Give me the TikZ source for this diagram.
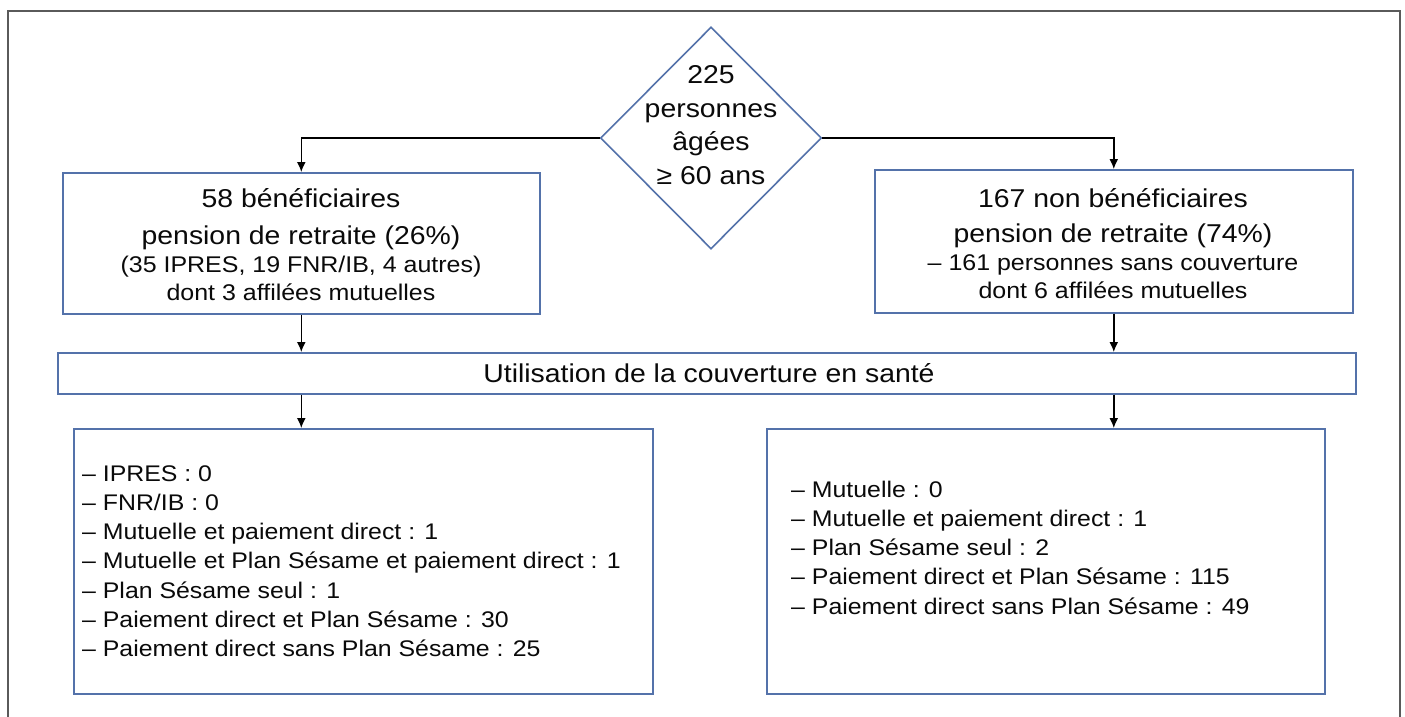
\documentclass[tikz,border=0pt]{standalone}
\usepackage{fontspec}
\setmainfont{Liberation Sans}[FakeStretch=1.1]
\usetikzlibrary{shapes.geometric,arrows.meta}
\definecolor{boxblue}{RGB}{84,114,170}
\definecolor{framegray}{RGB}{90,90,90}
\definecolor{txt}{RGB}{10,10,10}
\begin{document}
\begin{tikzpicture}[x=1pt,y=-1pt,
  box/.style={draw=boxblue,line width=1.6pt,inner sep=0pt,anchor=north west,rectangle},
  conn/.style={draw=black,line width=1.4pt,-{Latex[length=10pt,width=9pt]}},
  bigtxt/.style={font=\fontsize{25.8}{30}\selectfont,anchor=base,inner sep=0pt,text=txt},
  smalltxt/.style={font=\fontsize{22.7}{27}\selectfont,anchor=base,inner sep=0pt,text=txt},
  listtxt/.style={font=\fontsize{22.6}{27}\selectfont,anchor=base west,inner sep=0pt,text=txt}]
\useasboundingbox (0,0) rectangle (1405,717);
\fill[white] (0,0) rectangle (1405,717);
% outer frame
\draw[framegray,line width=1.6pt] (8,720) -- (8,11) -- (1400,11) -- (1400,720);

% boxes
\node[box,shape=diamond,anchor=center,minimum width=221pt,minimum height=222pt] (dia) at (711,138) {};
\node[box,minimum width=477pt,minimum height=141pt] (b1) at (62,172) {};
\node[box,minimum width=478pt,minimum height=143pt] (b2) at (874,169) {};
\node[box,minimum width=1298pt,minimum height=41pt] (bar) at (57,352) {};
\node[box,minimum width=579pt,minimum height=265pt] (l1) at (73,428) {};
\node[box,minimum width=558pt,minimum height=265pt] (l2) at (766,428) {};

% diamond text
\node[bigtxt] (d1) at (711,83) {225};
\node[bigtxt] (d2) at (711,117) {personnes};
\node[bigtxt] (d3) at (711,150) {âgées};
\node[bigtxt] (d4) at (711,184) {≥ 60 ans};

% left top box text
\node[bigtxt] (a1) at (301,207) {58 bénéficiaires};
\node[bigtxt] (a2) at (301,244) {pension de retraite (26\%)};
\node[smalltxt] (a3) at (301,272) {(35 IPRES, 19 FNR/IB, 4 autres)};
\node[smalltxt] (a4) at (301,300) {dont 3 affilées mutuelles};

% right top box text
\node[bigtxt] (c1) at (1113,207) {167 non bénéficiaires};
\node[bigtxt] (c2) at (1113,242) {pension de retraite (74\%)};
\node[smalltxt] (c3) at (1113,270) {– 161 personnes sans couverture};
\node[smalltxt] (c4) at (1113,298) {dont 6 affilées mutuelles};

% bar text
\node[bigtxt] (u1) at (709,382) {Utilisation de la couverture en santé};

% left list
\node[listtxt] (p1) at (82,481) {– IPRES : 0};
\node[listtxt] (p2) at (82,510.3) {– FNR/IB : 0};
\node[listtxt] (p3) at (82,539.6) {– Mutuelle et paiement direct : 1};
\node[listtxt] (p4) at (82,568.9) {– Mutuelle et Plan Sésame et paiement direct : 1};
\node[listtxt] (p5) at (82,598.2) {– Plan Sésame seul : 1};
\node[listtxt] (p6) at (82,627.5) {– Paiement direct et Plan Sésame : 30};
\node[listtxt] (p7) at (82,656.8) {– Paiement direct sans Plan Sésame : 25};

% right list
\node[listtxt] (q1) at (791,497) {– Mutuelle : 0};
\node[listtxt] (q2) at (791,526.3) {– Mutuelle et paiement direct : 1};
\node[listtxt] (q3) at (791,555.6) {– Plan Sésame seul : 2};
\node[listtxt] (q4) at (791,584.9) {– Paiement direct et Plan Sésame : 115};
\node[listtxt] (q5) at (791,614.2) {– Paiement direct sans Plan Sésame : 49};

% connectors
\draw[conn] (dia.west) -| (b1.north);
\draw[conn] (dia.east) -| (b2.north);
\draw[conn] (b1.south) -- (b1.south |- bar.north);
\draw[conn] (b2.south) -- (b2.south |- bar.north);
\draw[conn] (b1.south |- bar.south) -- (b1.south |- l1.north);
\draw[conn] (b2.south |- bar.south) -- (b2.south |- l2.north);
\end{tikzpicture}
\end{document}
